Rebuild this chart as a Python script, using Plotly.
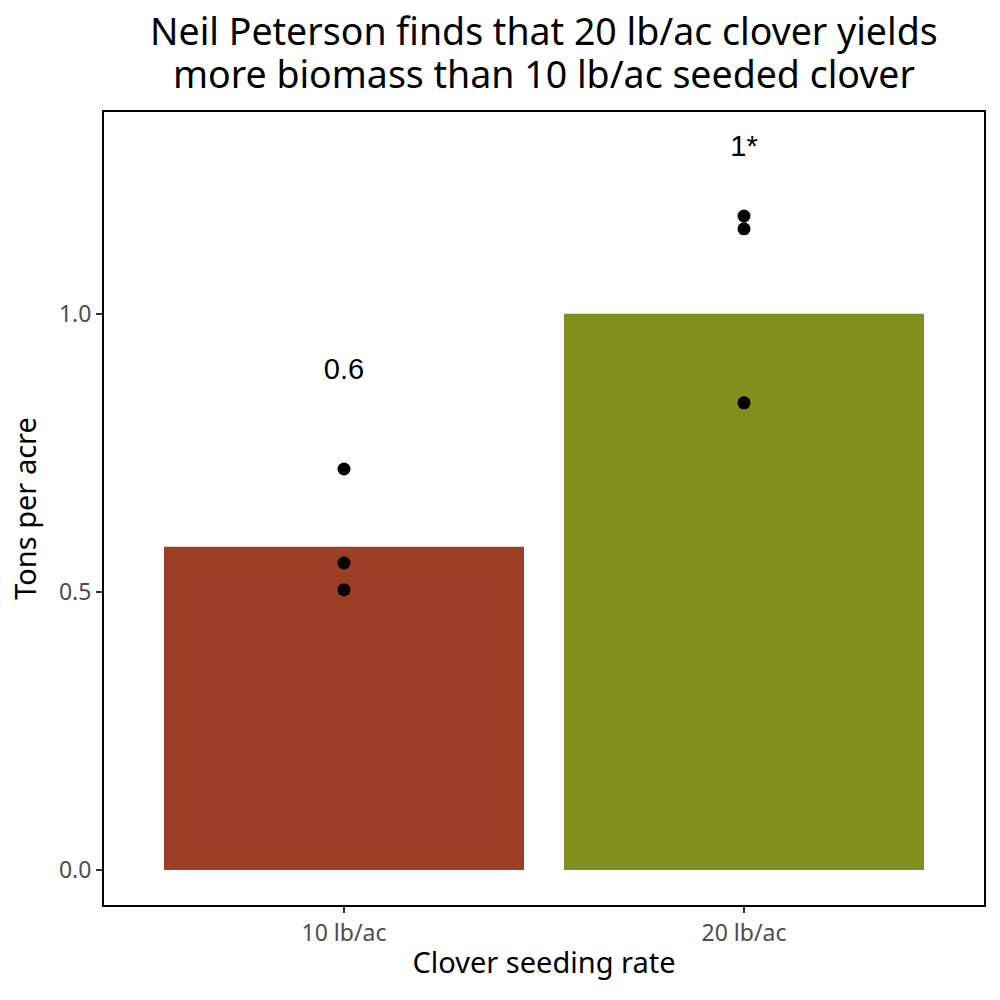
import plotly.graph_objects as go

# data
rates = ["10 lb/ac", "20 lb/ac"]
mean_yield = [0.581, 1.0]
bar_colors = ["#9C3D25", "#82901F"]

point_rate = ["10 lb/ac", "10 lb/ac", "10 lb/ac", "20 lb/ac", "20 lb/ac", "20 lb/ac"]
point_yield = [0.721, 0.552, 0.504, 1.176, 1.153, 0.840]

label_y = [0.896, 1.297]
label_text = ["0.6", "1*"]

title_lines = ["Neil Peterson finds that 20 lb/ac clover yields",
               "more biomass than 10 lb/ac seeded clover"]

fig = go.Figure()

fig.add_trace(go.Bar(x=rates, y=mean_yield, marker_color=bar_colors,
                     marker_line_width=0, width=0.9, showlegend=False))
fig.add_trace(go.Scatter(x=point_rate, y=point_yield, mode='markers',
                         marker=dict(color='black', size=13), showlegend=False))
fig.add_trace(go.Scatter(x=rates, y=label_y, mode='text', text=label_text,
                         textfont=dict(family="Liberation Sans", size=29, color='black'),
                         showlegend=False))

fig.update_layout(
    width=1000, height=1000,
    plot_bgcolor='white', paper_bgcolor='white',
    margin=dict(l=104, r=16, t=112, b=95),
    font=dict(family="Noto Sans", color='black'),
)
# title as two annotations so the line spacing can be matched
for line, ypos in zip(title_lines, [1.069, 1.015]):
    fig.add_annotation(text=line, xref='paper', yref='paper', x=0.5, y=ypos,
                       xanchor='center', yanchor='bottom', showarrow=False,
                       borderpad=0, font=dict(size=37.5, color='black'))
fig.update_xaxes(range=[-0.6, 1.6], showline=True, linecolor='black', linewidth=2, mirror=True,
                 ticks='outside', ticklen=6, tickwidth=2, tickcolor='#333333',
                 tickfont=dict(size=23, color='#4D4D4D'), showgrid=False,
                 title=dict(text="Clover seeding rate", font=dict(size=29), standoff=6))
fig.update_yaxes(range=[-0.063, 1.363], showline=True, linecolor='black', linewidth=2, mirror=True,
                 ticks='outside', ticklen=6, tickwidth=2, tickcolor='#333333',
                 tickvals=[0, 0.5, 1.0], ticktext=["0.0", "0.5", "1.0"],
                 tickfont=dict(size=23, color='#4D4D4D'), showgrid=False, zeroline=False,
                 title=dict(text="Tons per acre", font=dict(size=29), standoff=14))

# drop the default body margin so the 1000 px figure fills the window
fig.write_html("out.html", config={'displayModeBar': False},
               post_script="document.body.style.margin='0';")
